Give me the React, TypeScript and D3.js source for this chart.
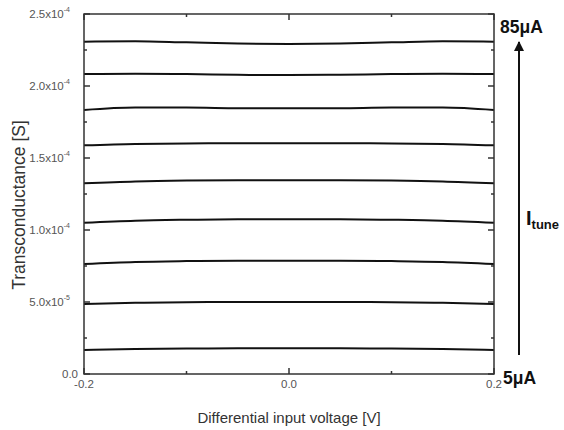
import * as d3 from 'd3'

// Differential input voltage [V]
const voltages = [-0.2, -0.15, -0.1, -0.05, 0, 0.05, 0.1, 0.15, 0.2]

// transconductance in µS, one series per tuning current (top to bottom)
const gm85 = [230.8, 231.1, 230.3, 229.5, 229.2, 229.5, 230.3, 231.1, 230.8]
const gm75 = [208.3, 208.5, 208.3, 207.8, 207.6, 207.8, 208.3, 208.5, 208.3]
const gm65 = [183.3, 185.0, 185.0, 184.6, 184.5, 184.6, 185.0, 185.0, 183.3]
const gm55 = [158.8, 159.8, 160.1, 160.2, 160.2, 160.2, 160.1, 159.8, 158.8]
const gm45 = [132.4, 133.7, 134.3, 134.5, 134.5, 134.5, 134.3, 133.7, 132.4]
const gm35 = [105.1, 106.5, 107.1, 107.4, 107.4, 107.4, 107.1, 106.5, 105.1]
const gm25 = [76.4, 77.8, 78.4, 78.7, 78.7, 78.7, 78.4, 77.8, 76.4]
const gm15 = [48.6, 49.4, 49.9, 50.0, 50.0, 50.0, 49.9, 49.4, 48.6]
const gm5 = [16.7, 17.4, 17.7, 17.8, 17.8, 17.8, 17.7, 17.4, 16.7]
const series = [gm85, gm75, gm65, gm55, gm45, gm35, gm25, gm15, gm5]

const yTicks = [0, 50e-6, 100e-6, 150e-6, 200e-6, 250e-6]
const yTickLabels = [
  ['0.0', ''],
  ['5.0x10', '-5'],
  ['1.0x10', '-4'],
  ['1.5x10', '-4'],
  ['2.0x10', '-4'],
  ['2.5x10', '-4'],
]
const yMinor = [25e-6, 75e-6, 125e-6, 175e-6, 225e-6]
const xTicks = [-0.2, 0, 0.2]
const xMinor = [-0.1, 0.1]

export default function App() {
  const left = 84
  const right = 494
  const top = 14
  const bottom = 374

  const x = d3.scaleLinear().domain([-0.2, 0.2]).range([left, right])
  const y = d3.scaleLinear().domain([0, 2.5e-4]).range([bottom, top])

  const line = d3
    .line<number>()
    .x((_, i) => x(voltages[i]))
    .y((d) => y(d * 1e-6))
    .curve(d3.curveMonotoneX)

  const axisColor = '#333'
  const font = 'Liberation Sans, Arial, sans-serif'

  return (
    <svg width={564} height={430} style={{ position: 'absolute', left: 0, top: 0, background: '#fff' }}>
      <defs>
        <marker id="arrow" viewBox="0 0 10 10" refX="9" refY="5" markerWidth="5" markerHeight="6" orient="auto">
          <path d="M0,0 L10,5 L0,10 z" fill="#111" />
        </marker>
      </defs>

      {series.map((s, i) => (
        <path key={i} d={line(s) || ''} fill="none" stroke="#111" strokeWidth={2} />
      ))}

      <rect x={left} y={top} width={right - left} height={bottom - top} fill="none" stroke={axisColor} strokeWidth={1.5} />

      {/* y ticks */}
      {yTicks.map((t) => (
        <g key={t}>
          <line x1={left} x2={left + 6} y1={y(t)} y2={y(t)} stroke={axisColor} strokeWidth={1.5} />
          <line x1={right} x2={right - 6} y1={y(t)} y2={y(t)} stroke={axisColor} strokeWidth={1.5} />
        </g>
      ))}
      {yMinor.map((t) => (
        <g key={t}>
          <line x1={left} x2={left + 3} y1={y(t)} y2={y(t)} stroke={axisColor} strokeWidth={1.5} />
          <line x1={right} x2={right - 3} y1={y(t)} y2={y(t)} stroke={axisColor} strokeWidth={1.5} />
        </g>
      ))}
      {yTicks.map((t, i) => (
        <text key={t} x={yTickLabels[i][1] ? 70 : 78} y={y(t) + 4} textAnchor="end" fontFamily={font} fontSize={11.5} fill="#555">
          {yTickLabels[i][0]}
          {yTickLabels[i][1] && (
            <tspan fontSize={7} dy={-6}>
              {yTickLabels[i][1]}
            </tspan>
          )}
        </text>
      ))}

      {/* x ticks */}
      {xTicks.map((t) => (
        <g key={t}>
          <line x1={x(t)} x2={x(t)} y1={bottom} y2={bottom - 6} stroke={axisColor} strokeWidth={1.5} />
          <line x1={x(t)} x2={x(t)} y1={top} y2={top + 6} stroke={axisColor} strokeWidth={1.5} />
          <text x={x(t)} y={bottom + 14} textAnchor="middle" fontFamily={font} fontSize={11.5} fill="#555">
            {t.toFixed(1)}
          </text>
        </g>
      ))}
      {xMinor.map((t) => (
        <g key={t}>
          <line x1={x(t)} x2={x(t)} y1={bottom} y2={bottom - 3} stroke={axisColor} strokeWidth={1.5} />
          <line x1={x(t)} x2={x(t)} y1={top} y2={top + 3} stroke={axisColor} strokeWidth={1.5} />
        </g>
      ))}

      <text x={(left + right) / 2} y={423} textAnchor="middle" fontFamily={font} fontSize={15} fill="#333">
        Differential input voltage [V]
      </text>
      <text
        transform="translate(25,205) rotate(-90)"
        textAnchor="middle"
        fontFamily={font}
        fontSize={17.5}
        fill="#333"
      >
        Transconductance [S]
      </text>

      {/* tuning current annotation */}
      <line x1={519} x2={519} y1={355} y2={42} stroke="#111" strokeWidth={2} markerEnd="url(#arrow)" />
      <text x={500} y={33} fontFamily={font} fontSize={17.5} fontWeight="bold" fill="#111">
        85μA
      </text>
      <text x={503} y={384} fontFamily={font} fontSize={17.5} fontWeight="bold" fill="#111">
        5μA
      </text>
      <text x={526} y={225} fontFamily={font} fontSize={20} fontWeight="bold" fill="#111">
        I
        <tspan fontSize={13} dy={4}>
          tune
        </tspan>
      </text>
    </svg>
  )
}
